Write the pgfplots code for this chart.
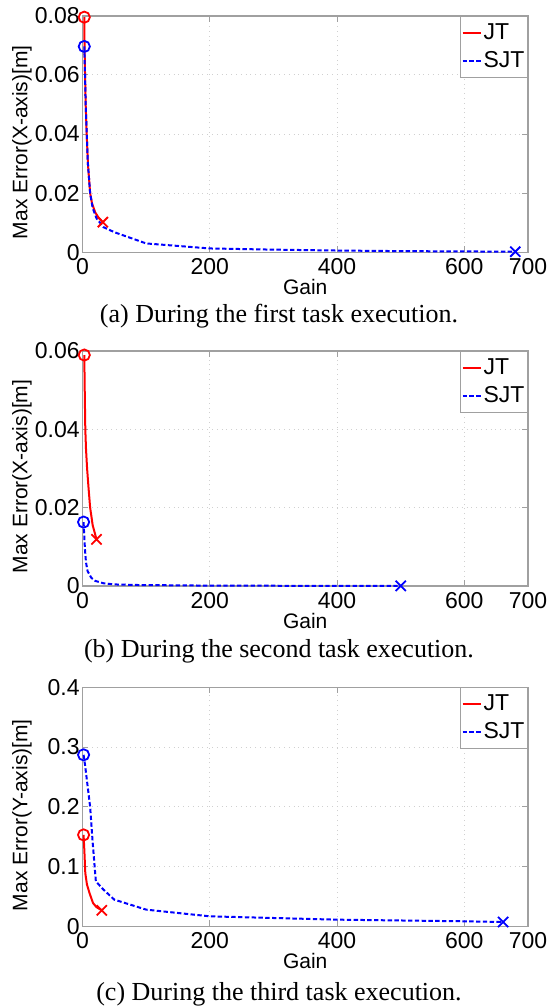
\documentclass[border=0pt]{standalone}
\usepackage{fontspec}
\setmainfont{Liberation Sans}
\newfontfamily\capfont{Liberation Serif}
\usepackage{pgfplots}
\pgfplotsset{compat=1.18}
\definecolor{axgray}{HTML}{A0A0A0}
\definecolor{grgray}{HTML}{D0D0D0}

\pgfplotsset{
  matlab/.style={
    scale only axis, width=222.75pt, anchor=north west,
    xmin=0, xmax=700, xtick={0,200,400,600,700}, xticklabels={0,200,400,600,700},
    scaled ticks=false, clip=false,
    axis line style={axgray, line width=0.8pt},
    tick align=inside, major tick length=3pt, tick style={axgray, line width=0.5pt},
    grid=major, grid style={grgray, dotted, line width=0.5pt},
    ticklabel style={font=\fontsize{11.5}{13}\selectfont},
    xticklabel style={inner sep=0pt, yshift=-3pt},
    yticklabel style={inner sep=0pt, xshift=-1.25pt},
    xlabel={Gain},
    xlabel style={at={(axis description cs:0.5,0)}, anchor=base, yshift=-21.3pt, font=\fontsize{10.5}{12}\selectfont},
    ylabel style={at={(axis description cs:-0.1358,0.465)}, anchor=center, font=\fontsize{10.5}{12}\selectfont},
    legend style={at={(1,1)}, anchor=north east, draw=axgray, line width=0.5pt, fill=white,
      font=\fontsize{11.5}{13}\selectfont, inner xsep=0.5pt, inner ysep=2.5pt, row sep=2.5pt,
      nodes={inner sep=1pt}, cells={anchor=west}},
    legend image code/.code={\draw[#1] (0pt,0pt) -- (9pt,0pt);},
  },
  jt/.style={red, line width=1pt},
  sjt/.style={blue, line width=1pt, dash pattern=on 2.2pt off 1.2pt},
  mk/.style={only marks, forget plot, mark size=#1, mark options={solid, line width=0.9pt}},
}

\begin{document}
\begin{tikzpicture}
\useasboundingbox (0,0) rectangle (274.5pt,-504pt);

% (a) first task
\begin{axis}[matlab, at={(41.25pt,-7.85pt)}, height=118.3pt,
  ymin=0, ymax=0.08, ytick={0,0.02,0.04,0.06,0.08}, yticklabels={0,0.02,0.04,0.06,0.08},
  ylabel={Max Error(X-axis)[m]}]
\addplot[jt] coordinates {(2.8,0.0795) (3.2,0.07) (4,0.06) (5,0.05) (6.6,0.04) (8.5,0.03) (12,0.02) (15,0.0165) (20,0.0135) (25,0.0118) (32,0.0102)};
\addlegendentry{JT}
\addplot[sjt] coordinates {(2.8,0.0696) (4,0.06) (5,0.05) (6.6,0.04) (8.5,0.03) (12,0.02) (16,0.015) (22,0.0115) (33,0.0085) (50,0.0068) (100,0.003) (200,0.0013) (300,0.0009) (400,0.0006) (500,0.0004) (600,0.0003) (680,0.0002)};
\addlegendentry{SJT}
\addplot[red, mk=2.8pt, mark=o] coordinates {(2.8,0.0795)};
\addplot[red, mk=3.6pt, mark=x] coordinates {(32,0.0102)};
\addplot[blue, mk=2.8pt, mark=o] coordinates {(2.8,0.0696)};
\addplot[blue, mk=3.6pt, mark=x] coordinates {(680,0.0002)};
\end{axis}
\node[font=\capfont\fontsize{13}{15}\selectfont, anchor=base] at (139.5pt,-161pt) {(a) During the first task execution.};

% (b) second task
\begin{axis}[matlab, at={(41.25pt,-175.35pt)}, height=117.65pt,
  ymin=0, ymax=0.06, ytick={0,0.02,0.04,0.06}, yticklabels={0,0.02,0.04,0.06},
  ylabel={Max Error(X-axis)[m]}]
\addplot[jt] coordinates {(2.8,0.0589) (3.5,0.05) (4.4,0.04) (5.5,0.035) (7.2,0.03) (9.5,0.025) (12,0.02) (16,0.0155) (22,0.0119)};
\addlegendentry{JT}
\addplot[sjt] coordinates {(1.7,0.0163) (3,0.012) (4,0.009) (5.5,0.006) (8,0.0038) (13.8,0.0021) (20,0.0013) (33,0.0007) (50,0.0004) (88,0.00025) (200,0.0001) (350,0.00005) (500,0.00003)};
\addlegendentry{SJT}
\addplot[red, mk=2.8pt, mark=o] coordinates {(2.8,0.0589)};
\addplot[red, mk=3.6pt, mark=x] coordinates {(22,0.0119)};
\addplot[blue, mk=2.8pt, mark=o] coordinates {(1.7,0.0163)};
\addplot[blue, mk=3.6pt, mark=x] coordinates {(500,0.00003)};
\end{axis}
\node[font=\capfont\fontsize{13}{15}\selectfont, anchor=base] at (139.5pt,-328.5pt) {(b) During the second task execution.};

% (c) third task
\begin{axis}[matlab, at={(41.25pt,-343.65pt)}, height=119.5pt,
  ymin=0, ymax=0.4, ytick={0,0.1,0.2,0.3,0.4}, yticklabels={0,0.1,0.2,0.3,0.4},
  ylabel={Max Error(Y-axis)[m]}]
\addplot[jt] coordinates {(1.7,0.153) (3,0.125) (4.4,0.089) (7,0.07) (11,0.0557) (16.5,0.039) (22,0.032) (30.3,0.0267)};
\addlegendentry{JT}
\addplot[sjt] coordinates {(1.7,0.287) (4,0.27) (8,0.235) (12,0.2) (16,0.14) (21,0.0752) (33,0.0613) (50,0.0446) (100,0.0279) (200,0.0167) (400,0.0111) (600,0.0084) (661,0.0072)};
\addlegendentry{SJT}
\addplot[red, mk=2.8pt, mark=o] coordinates {(1.7,0.153)};
\addplot[red, mk=3.6pt, mark=x] coordinates {(30.3,0.0267)};
\addplot[blue, mk=2.8pt, mark=o] coordinates {(1.7,0.287)};
\addplot[blue, mk=3.6pt, mark=x] coordinates {(661,0.0072)};
\end{axis}
\node[font=\capfont\fontsize{13}{15}\selectfont, anchor=base] at (139.5pt,-500pt) {(c) During the third task execution.};
\end{tikzpicture}
\end{document}
